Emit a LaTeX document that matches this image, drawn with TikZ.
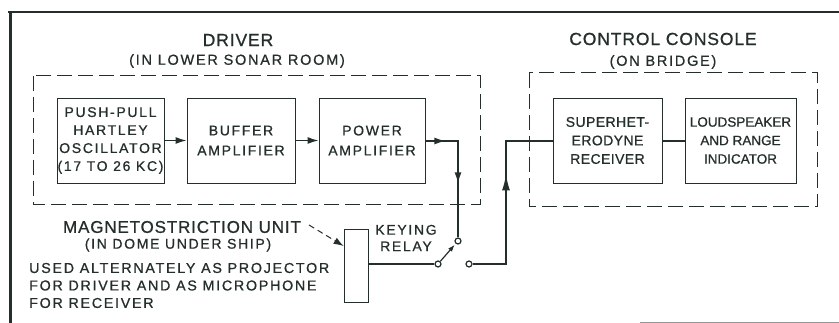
\documentclass[tikz,border=0pt]{standalone}
\usepackage{fontspec}
\usetikzlibrary{arrows.meta,calc,decorations.markings}
\newfontfamily\wfont[LetterSpace=12,FakeBold=0.8]{Liberation Sans}
\newfontfamily\nfont[LetterSpace=3,FakeBold=0.8]{Liberation Sans}
\newfontfamily\tfont[LetterSpace=5,FakeBold=0.8]{Liberation Sans}
\newfontfamily\zfont[FakeBold=0.8]{Liberation Sans}
\definecolor{ink}{RGB}{36,46,43}
\tikzset{
  blk/.style={draw=ink, line width=0.8pt, minimum height=85pt, inner sep=0pt, align=center, text=ink},
  wtxt/.style={font={\wfont\fontsize{14}{18}\selectfont}},
  ntxt/.style={font={\nfont\fontsize{14}{18.5}\selectfont}},
  ttl/.style={text=ink, inner sep=0pt, font={\tfont\fontsize{17.5}{20}\selectfont}},
  sub/.style={text=ink, inner sep=0pt, font={\wfont\fontsize{14.5}{18}\selectfont}},
  lbl/.style={text=ink, inner sep=0pt, font={\wfont\fontsize{14.3}{17.5}\selectfont}},
  conn/.style={draw=ink, line width=1.5pt},
  dbox/.style={draw=ink, line width=1pt, dash pattern=on 15pt off 6pt},
  contact/.style={circle, draw=ink, line width=1.2pt, fill=white, minimum size=6pt, inner sep=0pt},
  tip/.style={-{Latex[length=11pt,width=7pt]}},
}
\begin{document}
\begin{tikzpicture}[x=1pt,y=-1pt]
\useasboundingbox (0,0) rectangle (839,323);
% frame
\draw[ink, line width=2.5pt] (8,12) -- (839,12);
\draw[ink, line width=3pt] (10,12) -- (10,323);
\draw[ink!50, line width=0.6pt] (640,322) -- (839,322);
% dashed enclosures
\draw[dbox] (33,76) rectangle (480,205);
\draw[dbox] (529,73) rectangle (817,207);
% titles
\node[ttl] (tdrv) at (238,40) {DRIVER};
\node[sub] (tdrv2) at (237,61) {(IN LOWER SONAR ROOM)};
\node[ttl] (tcc) at (663,39) {CONTROL CONSOLE};
\node[sub] (tcc2) at (663,62) {(ON BRIDGE)};
% blocks
\node[blk, wtxt, minimum width=107pt] (osc) at (110.5,140.5) {PUSH-PULL\\HARTLEY\\OSCILLATOR\\(17 TO 26 KC)};
\node[blk, wtxt, minimum width=108pt, font={\wfont\fontsize{14}{20}\selectfont}] (buf) at (241,140.5) {BUFFER\\AMPLIFIER};
\node[blk, wtxt, minimum width=106pt, font={\wfont\fontsize{14}{20}\selectfont}] (pwr) at (372,140.5) {POWER\\AMPLIFIER};
\node[blk, ntxt, minimum width=109pt] (shet) at (607.5,140.5) {SUPERHET-\\ERODYNE\\RECEIVER};
\node[blk, minimum width=111pt, font={\zfont\fontsize{13.5}{18.5}\selectfont}] (loud) at (740.5,140.5) {LOUDSPEAKER\\AND RANGE\\INDICATOR};
% magnetostriction unit
\node[draw=ink, line width=0.8pt, minimum width=24pt, minimum height=73pt, inner sep=0pt] (mag) at (356,265.5) {};
% contacts
\node[contact] (c1) at (458,241) {};
\node[contact] (c2) at (438,264) {};
\node[contact] (c3) at (469,264) {};
% labels
\node[ttl, font={\tfont\fontsize{17}{20}\selectfont}] (tmag) at (182,227) {MAGNETOSTRICTION UNIT};
\node[sub, font={\wfont\fontsize{14}{18}\selectfont}] (tmag2) at (178,245) {(IN DOME UNDER SHIP)};
\node[lbl, align=left, anchor=west] (tuse) at (29,285.5) {USED ALTERNATELY AS PROJECTOR\\FOR DRIVER AND AS MICROPHONE\\FOR RECEIVER};
\node[lbl, align=center, font={\wfont\fontsize{14}{16.5}\selectfont}] (tkey) at (406,238) {KEYING\\RELAY};
% connectors
\draw[conn, tip] (osc.east) -- (buf.west);
\draw[conn, tip] (buf.east) -- (pwr.west);
\coordinate (k1) at (458,141);
\draw[conn, postaction={decorate}, decoration={markings,
   mark=at position 20pt with {\arrow{Latex[length=11pt,width=7pt]}},
   mark=at position 75pt with {\arrow{Latex[length=11pt,width=7pt]}}}]
   (pwr.east |- k1) -- (k1) -- (c1);
\coordinate (k2) at (506,264);
\coordinate (k3) at (506,141);
\draw[conn, postaction={decorate}, decoration={markings,
   mark=at position 123pt with {\arrow{Latex[length=16pt,width=8pt]}}}]
   (c3) -- (k2) -- (k3) -- (shet.west |- k3);
\draw[conn] (shet.east |- k3) -- (loud.west |- k3);
\draw[conn] (mag.east |- c2) -- (c2);
\draw[draw=ink, line width=1.2pt, -{Latex[length=7pt,width=5pt]}] (c2) -- ($(c1)!5pt!(c2)$);
\coordinate (m1) at (309,225);
\draw[draw=ink, line width=1pt, dash pattern=on 6pt off 4pt, -{Latex[length=10pt,width=7pt]}] (m1) -- (mag.west |- 0,246);
\end{tikzpicture}
\end{document}
